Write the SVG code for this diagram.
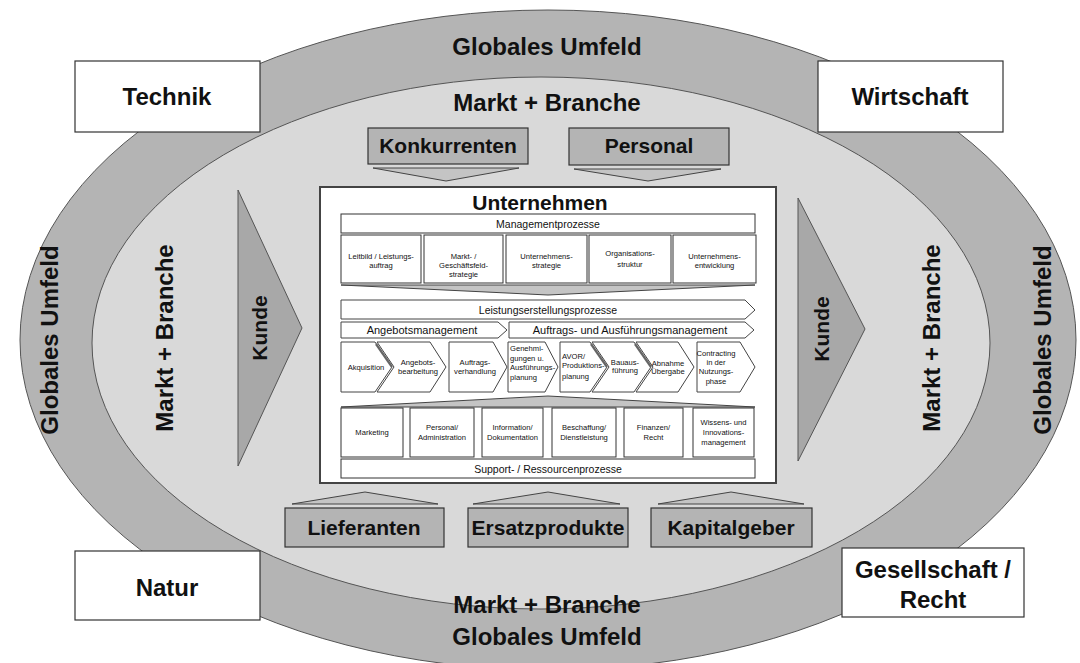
<svg xmlns="http://www.w3.org/2000/svg" width="1080" height="663" viewBox="0 0 1080 663">
<style>
text{font-family:"Liberation Sans",Arial,sans-serif;fill:#111;text-anchor:middle}
.big{font-size:24px;font-weight:bold}
.mid{font-size:21px;font-weight:bold}
.bar{font-size:10.5px}
.tiny{font-size:7.6px}
.lt{text-anchor:start}
.wbox{fill:#fff;stroke:#333;stroke-width:1.2}
.gbox{fill:#b4b4b4;stroke:#333;stroke-width:1.2}
.wedge{fill:#c4c4c4;stroke:#444;stroke-width:1}
.ib{fill:#fff;stroke:#333;stroke-width:1}
.chev{fill:#fff;stroke:#444;stroke-width:1}
.shadow{fill:none;stroke:#666;stroke-width:2.2}
.kunde{fill:#a8a8a8;stroke:#555;stroke-width:1}
</style>
<rect width="1080" height="663" fill="#fff"/>
<g id="ellipses">
<ellipse cx="548" cy="340" rx="528" ry="330" fill="#b4b4b4" stroke="#555" stroke-width="1"/>
<ellipse cx="541" cy="343" rx="449" ry="266" fill="#d9d9d9" stroke="#555" stroke-width="1"/>
</g>
<g id="labels">
<text class="big" x="547" y="55">Globales Umfeld</text>
<text class="big" x="547" y="645">Globales Umfeld</text>
<text class="big" x="547" y="111">Markt + Branche</text>
<text class="big" x="547" y="613">Markt + Branche</text>
<text class="big" transform="translate(50,340) rotate(-90)" dy="0.35em">Globales Umfeld</text>
<text class="big" transform="translate(1043,340) rotate(-90)" dy="0.35em">Globales Umfeld</text>
<text class="big" transform="translate(165,338) rotate(-90)" dy="0.35em">Markt + Branche</text>
<text class="big" transform="translate(932,338) rotate(-90)" dy="0.35em">Markt + Branche</text>
</g>
<g id="technik"><rect class="wbox" x="75" y="61" width="185" height="71"/><text class="big" x="167" y="105">Technik</text></g>
<g id="wirtschaft"><rect class="wbox" x="818" y="61" width="185" height="71"/><text class="big" x="910" y="105">Wirtschaft</text></g>
<g id="natur"><rect class="wbox" x="75" y="551" width="185" height="69"/><text class="big" x="167" y="596">Natur</text></g>
<g id="gesellschaft"><rect class="wbox" x="842" y="548" width="182" height="69"/><text class="big" x="933" y="578">Gesellschaft /</text><text class="big" x="933" y="608">Recht</text></g>
<g id="kunde-links"><polygon class="kunde" points="238,190 302,328 238,466"/><text class="mid" transform="translate(260,328) rotate(-90)" dy="0.35em">Kunde</text></g>
<g id="kunde-rechts"><polygon class="kunde" points="798,198 865,329 798,461"/><text class="mid" transform="translate(822,329) rotate(-90)" dy="0.35em">Kunde</text></g>
<g id="konkurrenten"><rect class="gbox" x="368" y="128" width="160" height="36"/><text class="mid" x="448" y="153">Konkurrenten</text></g>
<g id="personal"><rect class="gbox" x="569" y="128" width="160" height="37"/><text class="mid" x="649" y="153">Personal</text></g>
<g id="lieferanten"><rect class="gbox" x="285" y="508" width="159" height="39"/><text class="mid" x="364" y="535">Lieferanten</text></g>
<g id="ersatzprodukte"><rect class="gbox" x="468" y="508" width="160" height="39"/><text class="mid" x="548" y="535">Ersatzprodukte</text></g>
<g id="kapitalgeber"><rect class="gbox" x="651" y="508" width="161" height="39"/><text class="mid" x="731" y="535">Kapitalgeber</text></g>
<g id="connectors">
<polygon class="wedge" points="373,168 519,168 446,181"/>
<polygon class="wedge" points="574,169 721,169 648,181"/>
<polygon class="wedge" points="292,504 365,492 438,504"/>
<polygon class="wedge" points="473,504 548,492 620,504"/>
<polygon class="wedge" points="658,504 731,492 804,504"/>
</g>
<g id="unternehmen">
<rect x="320" y="187" width="456" height="296" fill="#fff" stroke="#444" stroke-width="2"/>
<text class="mid" x="540" y="210">Unternehmen</text>
<rect class="ib" x="341" y="214" width="414" height="19"/>
<text class="bar" x="548" y="227.5">Managementprozesse</text>
</g>
<g id="management">
<rect class="ib" x="341" y="235" width="80" height="48"/>
<text class="tiny" x="381" y="259">Leitbild / Leistungs-</text><text class="tiny" x="381" y="268">auftrag</text>
<rect class="ib" x="424" y="235" width="79" height="48"/>
<text class="tiny" x="463.5" y="259">Markt- /</text><text class="tiny" x="463.5" y="268">Geschäftsfeld-</text><text class="tiny" x="463.5" y="277">strategie</text>
<rect class="ib" x="506" y="235" width="81" height="48"/>
<text class="tiny" x="546.5" y="259">Unternehmens-</text><text class="tiny" x="546.5" y="268">strategie</text>
<rect class="ib" x="589" y="235" width="82" height="48"/>
<text class="tiny" x="630" y="256">Organisations-</text><text class="tiny" x="630" y="267">struktur</text>
<rect class="ib" x="673" y="235" width="83" height="48"/>
<text class="tiny" x="714.5" y="259">Unternehmens-</text><text class="tiny" x="714.5" y="268">entwicklung</text>
<polygon class="wedge" points="341,285 755,285 548,295"/>
</g>
<g id="leistung">
<polygon class="chev" points="341,300 745,300 755,310 745,319 341,319"/>
<text class="bar" x="548" y="313.5">Leistungserstellungsprozesse</text>
<polygon class="chev" points="341,322 498,322 507,330 498,338 341,338"/>
<text class="bar" x="422" y="334" style="font-size:11px">Angebotsmanagement</text>
<polygon class="chev" points="509,322 745,322 754,330 745,338 509,338"/>
<text class="bar" x="630" y="334" style="font-size:11px">Auftrags- und Ausführungsmanagement</text>
</g>
<g id="prozesse">
<polygon class="chev" points="341,342 375,342 392,367 375,392 341,392"/>
<polyline class="shadow" points="376,344 392,367"/>
<text class="tiny" x="366" y="370">Akquisition</text>
<polygon class="chev" points="377,342 430,342 446,367 430,392 377,392 394,367"/>
<text class="tiny" x="418" y="365">Angebots-</text><text class="tiny" x="418" y="374">bearbeitung</text>
<polygon class="chev" points="449,342 493,342 507,367 493,392 449,392"/>
<text class="tiny" x="475" y="365">Auftrags-</text><text class="tiny" x="475" y="374">verhandlung</text>
<polygon class="chev" points="508,342 545,342 558,367 545,392 508,392"/>
<text class="tiny lt" x="510" y="351">Genehmi-</text><text class="tiny lt" x="510" y="361">gungen u.</text><text class="tiny lt" x="510" y="370">Ausführungs-</text><text class="tiny lt" x="510" y="380">planung</text>
<polygon class="chev" points="560,342 590,342 607,367 590,392 560,392"/>
<polyline class="shadow" points="591,344 607,367"/>
<text class="tiny lt" x="562" y="359">AVOR/</text><text class="tiny lt" x="562" y="368">Produktions-</text><text class="tiny lt" x="562" y="379">planung</text>
<polygon class="chev" points="592,342 634,342 651,367 634,392 592,392 609,367"/>
<polyline class="shadow" points="635,344 651,367"/>
<text class="tiny" x="625" y="365">Bauaus-</text><text class="tiny" x="625" y="373">führung</text>
<polygon class="chev" points="636,342 678,342 694,367 678,392 636,392 653,367"/>
<text class="tiny" x="668" y="366">Abnahme</text><text class="tiny" x="668" y="374">Übergabe</text>
<polygon class="chev" points="697,342 740,342 755,367 740,392 697,392"/>
<text class="tiny" x="716" y="356">Contracting</text><text class="tiny" x="716" y="365">in der</text><text class="tiny" x="716" y="374">Nutzungs-</text><text class="tiny" x="716" y="384">phase</text>
<polygon class="wedge" points="341,407 548,396 755,407"/>
</g>
<g id="support">
<rect class="ib" x="341" y="408" width="62" height="49"/>
<text class="tiny" x="372" y="435">Marketing</text>
<rect class="ib" x="410" y="408" width="64" height="49"/>
<text class="tiny" x="442" y="430">Personal/</text><text class="tiny" x="442" y="440">Administration</text>
<rect class="ib" x="482" y="408" width="61" height="49"/>
<text class="tiny" x="512.5" y="430">Information/</text><text class="tiny" x="512.5" y="440">Dokumentation</text>
<rect class="ib" x="552" y="408" width="64" height="49"/>
<text class="tiny" x="584" y="430">Beschaffung/</text><text class="tiny" x="584" y="440">Dienstleistung</text>
<rect class="ib" x="624" y="408" width="59" height="49"/>
<text class="tiny" x="653.5" y="430">Finanzen/</text><text class="tiny" x="653.5" y="440">Recht</text>
<rect class="ib" x="693" y="408" width="61" height="49"/>
<text class="tiny" x="723.5" y="425">Wissens- und</text><text class="tiny" x="723.5" y="435">Innovations-</text><text class="tiny" x="723.5" y="445">management</text>
<rect class="ib" x="341" y="459" width="414" height="19"/>
<text class="bar" x="548" y="472.5">Support- / Ressourcenprozesse</text>
</g>
</svg>
